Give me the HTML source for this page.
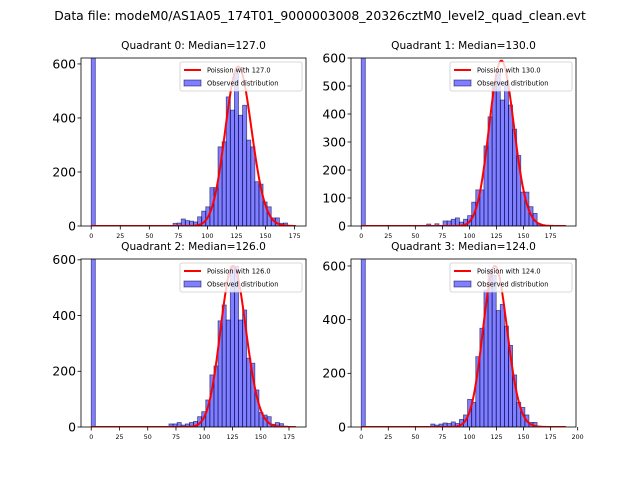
<!DOCTYPE html>
<html><head><meta charset="utf-8"><style>
body{margin:0;background:#fff;}
svg{display:block;font-family:"DejaVu Sans","Liberation Sans",sans-serif;}
</style></head><body>
<svg id="fig" width="640" height="480" viewBox="0 0 640 480">
<rect width="640" height="480" fill="#fff"/>
<text x="320" y="20" font-size="12.4" text-anchor="middle">Data file: modeM0/AS1A05_174T01_9000003008_20326cztM0_level2_quad_clean.evt</text>
</svg>
<script>
const quadNames = ["Quadrant 0","Quadrant 1","Quadrant 2","Quadrant 3"];
const medians = [127.0,130.0,126.0,124.0];
const dataMax = [176,189,181,189];
const yMax = [622,600,603,626];
const yTicks = [[0,200,400,600],[0,100,200,300,400,500,600],[0,200,400,600],[0,200,400,600]];
const xTicks = [[0,25,50,75,100,125,150,175],[0,25,50,75,100,125,150,175],[0,25,50,75,100,125,150,175],[0,25,50,75,100,125,150,175,200]];
const curvePeaks = [590,590,578,600];
const zeroCounts = [2000,2000,2000,2000];
const startBin = [20,16,19,17];
const counts0 = [10,11,26,20,18,15,34,55,71,142,142,293,312,478,429,565,410,447,318,293,164,155,89,71,30,30,10,11];
const counts1 = [7,0,8,0,18,18,24,29,14,24,37,85,129,129,286,390,513,551,450,515,432,346,252,121,121,69,45,8,3,2,2,2,1,1];
const counts2 = [11,11,16,7,11,16,20,37,55,97,187,219,381,438,384,576,576,384,420,247,229,133,52,43,37,10,16,12,3,2,1];
const counts3 = [11,7,11,15,13,19,13,28,45,103,92,262,368,510,585,566,434,457,376,304,194,92,73,45,17,17,3,2,2,1,1,1,1];
const allCounts = [counts0,counts1,counts2,counts3];
const boxes = [[81,58,306,226],[351,58,576,226],[81,259,306,427],[351,259,576,427]];

const NS="http://www.w3.org/2000/svg";
const svg=document.getElementById('fig');
function mk(tag,attrs,parent){const e=document.createElementNS(NS,tag);for(const k in attrs)e.setAttribute(k,attrs[k]);(parent||svg).appendChild(e);return e;}
function lnFact(k){let s=0;for(let i=2;i<=k;i++)s+=Math.log(i);return s;}
function pois(k,l){return Math.exp(k*Math.log(l)-l-lnFact(k));}

for(let q=0;q<4;q++){
  const [L,T,R,B]=boxes[q];
  const xmin=-0.05*dataMax[q], xmax=1.05*dataMax[q];
  const X=v=>L+(v-xmin)/(xmax-xmin)*(R-L);
  const Y=v=>B-v/yMax[q]*(B-T);
  const w=dataMax[q]/50;
  const g=mk('g',{});
  
  
  const cid='clip'+q;
  const cp=mk('clipPath',{id:cid},g);mk('rect',{x:L,y:T,width:R-L,height:B-T},cp);
  const plot=mk('g',{'clip-path':'url(#'+cid+')'},g);
  const bars=[[0,zeroCounts[q]]];
  allCounts[q].forEach((c,i)=>bars.push([startBin[q]+i,c]));
  bars.forEach(([bi,c])=>{
    if(c<=0)return;
    const r=mk('rect',{x:X(bi*w),y:Y(c),width:X((bi+1)*w)-X(bi*w),height:B-Y(c),fill:'rgba(0,0,255,0.5)',stroke:'rgba(0,0,60,0.6)','stroke-width':0.8},plot);
    
    
  });
  const lam=medians[q];
  const amp=curvePeaks[q]/pois(Math.floor(lam),lam);
  let d='';
  for(let k=0;k<=Math.ceil(dataMax[q]);k++){d+=(k?'L':'M')+X(k).toFixed(2)+','+Y(amp*pois(k,lam)).toFixed(2);}
  const pl=mk('path',{d:d,fill:'none',stroke:'#ff0000','stroke-width':2},plot);
  
  
  const fr=mk('rect',{x:L,y:T,width:R-L,height:B-T,fill:'none',stroke:'#000','stroke-width':0.8},g);
  
  
  yTicks[q].forEach(v=>{
    mk('line',{x1:L-3.5,x2:L,y1:Y(v),y2:Y(v),stroke:'#000','stroke-width':0.8},g);
    const t=mk('text',{x:L-5,y:Y(v)+4.4,'font-size':12.4,'text-anchor':'end'},g);t.textContent=v;
    
    
  });
  xTicks[q].forEach(v=>{
    mk('line',{x1:X(v),x2:X(v),y1:B,y2:B+3.5,stroke:'#000','stroke-width':0.8},g);
    const t=mk('text',{x:X(v),y:B+12,'font-size':6.3,'text-anchor':'middle'},g);t.textContent=v;
    
    
  });
  const tt=mk('text',{x:(L+R)/2,y:T-9,'font-size':10.6,'text-anchor':'middle'},g);
  tt.textContent=quadNames[q]+': Median='+medians[q].toFixed(1);
  
  
  const lg=mk('g',{},g);
  
  
  mk('rect',{x:R-126,y:T+4,width:122,height:29,rx:2,fill:'rgba(255,255,255,0.8)',stroke:'#ccc','stroke-width':0.8},lg);
  mk('line',{x1:R-122,x2:R-105,y1:T+12,y2:T+12,stroke:'#ff0000','stroke-width':2},lg);
  const t1=mk('text',{x:R-99,y:T+14.5,'font-size':6.6},lg);t1.textContent='Poission with '+medians[q].toFixed(1);
  mk('rect',{x:R-122,y:T+22,width:17,height:6,fill:'rgba(0,0,255,0.5)',stroke:'rgba(0,0,60,0.6)','stroke-width':0.8},lg);
  const t2=mk('text',{x:R-99,y:T+27.5,'font-size':6.6},lg);t2.textContent='Observed distribution';
}
</script>
</body></html>
